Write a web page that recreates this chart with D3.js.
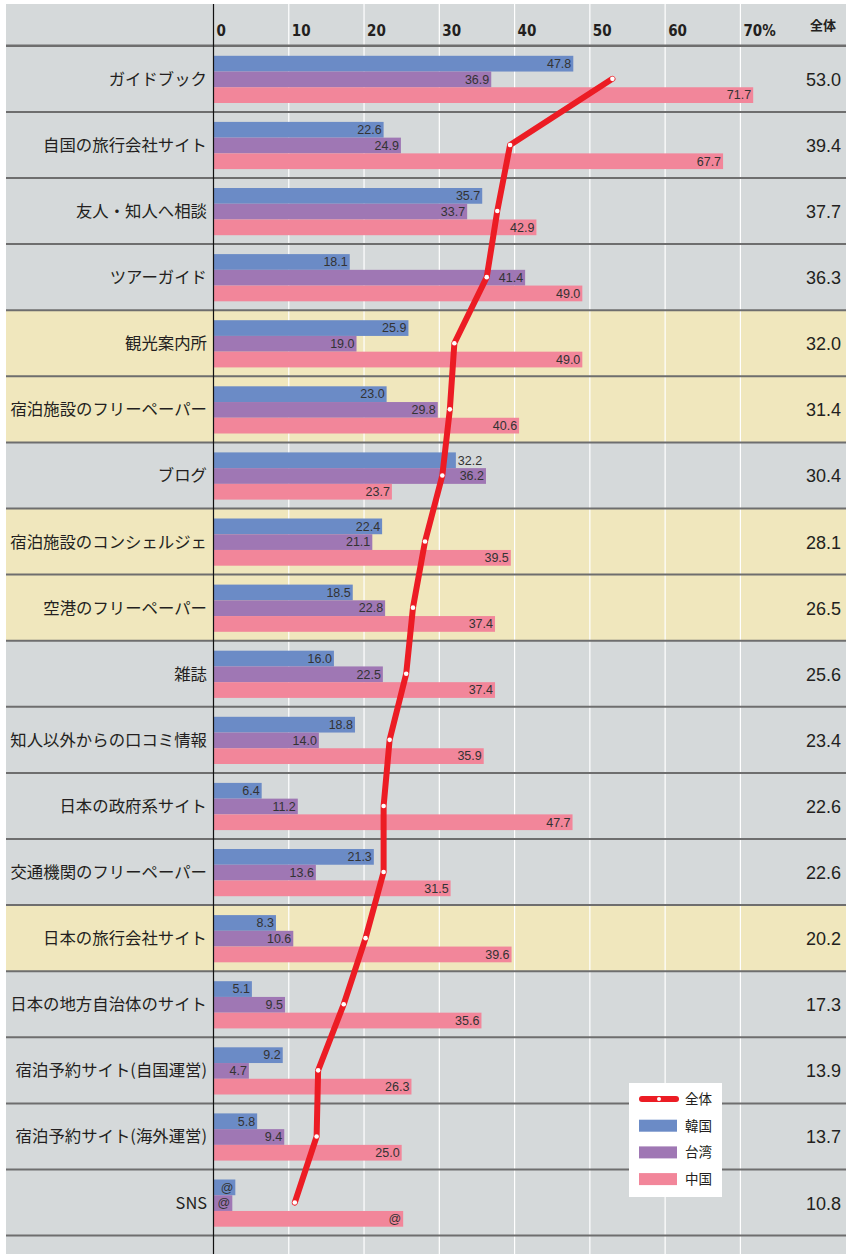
<!DOCTYPE html>
<html>
<head>
<meta charset="utf-8">
<script src="https://cdn.jsdelivr.net/npm/d3@7"></script>
<style>
  body { margin: 0; background: #fff; }
  svg { display: block; }
  .cat { font-family: "Noto Sans CJK JP", sans-serif; font-size: 16.4px; fill: #231f20; }
  .tick-lab { font-family: "Liberation Sans Narrow", "DejaVu Sans Condensed", sans-serif; font-weight: bold; font-size: 15px; fill: #231f20; }
  .val { font-family: "Liberation Sans", Arial, sans-serif; font-size: 12.5px; fill: #333; }
  .total { font-family: "Liberation Sans", Arial, sans-serif; font-size: 18px; fill: #231f20; }
  .leg { font-family: "Noto Sans CJK JP", sans-serif; font-size: 13.5px; fill: #231f20; }
</style>
</head>
<body>
<div id="chart"></div>
<script>
// data
const categories = ["ガイドブック", "自国の旅行会社サイト", "友人・知人へ相談", "ツアーガイド", "観光案内所",
    "宿泊施設のフリーペーパー", "ブログ", "宿泊施設のコンシェルジェ", "空港のフリーペーパー", "雑誌",
    "知人以外からの口コミ情報", "日本の政府系サイト", "交通機関のフリーペーパー", "日本の旅行会社サイト",
    "日本の地方自治体のサイト", "宿泊予約サイト(自国運営)", "宿泊予約サイト(海外運営)", "SNS"];
const highlighted = ["観光案内所", "宿泊施設のフリーペーパー", "宿泊施設のコンシェルジェ", "空港のフリーペーパー", "日本の旅行会社サイト"];
const seriesNames = ["韓国", "台湾", "中国"];
const korea  = [47.8, 22.6, 35.7, 18.1, 25.9, 23.0, 32.2, 22.4, 18.5, 16.0, 18.8, 6.4, 21.3, 8.3, 5.1, 9.2, 5.8, 2.9];
const taiwan = [36.9, 24.9, 33.7, 41.4, 19.0, 29.8, 36.2, 21.1, 22.8, 22.5, 14.0, 11.2, 13.6, 10.6, 9.5, 4.7, 9.4, 2.5];
const china  = [71.7, 67.7, 42.9, 49.0, 49.0, 40.6, 23.7, 39.5, 37.4, 37.4, 35.9, 47.7, 31.5, 39.6, 35.6, 26.3, 25.0, 25.2];
const total  = [53.0, 39.4, 37.7, 36.3, 32.0, 31.4, 30.4, 28.1, 26.5, 25.6, 23.4, 22.6, 22.6, 20.2, 17.3, 13.9, 13.7, 10.8];
// SNS row shows "@" instead of numbers
const specialLabel = {"SNS": "@"};
// labels pushed outside the bar so the line doesn't cover them
const outsideLabels = [["ブログ", "韓国"]];
const tickValues = [0, 10, 20, 30, 40, 50, 60, 70];
const tickLabels = ["0", "10", "20", "30", "40", "50", "60", "70%"];
const totalName = "全体";

const colors = {"韓国": "#6b8bc6", "台湾": "#9f77b4", "中国": "#f2869a"};
const lineColor = "#ec1c24";

const width = 846, height = 1254;
const svg = d3.select("#chart").append("svg")
    .attr("width", width)
    .attr("height", height);

const x = d3.scaleLinear().domain([0, 70]).range([213.5, 740.4]);
const y = d3.scaleBand().domain(categories).range([45.8, 45.8 + 18 * 66.1]);
const inner = d3.scaleBand().domain(seriesNames).range([10, 57.2]);

// background
svg.append("rect")
    .attr("x", 6).attr("y", 4)
    .attr("width", width - 6).attr("height", height - 4)
    .attr("fill", "#d5d9da");

// highlighted rows
svg.selectAll(".hl")
    .data(highlighted)
    .enter().append("rect")
    .attr("x", 6)
    .attr("y", d => y(d))
    .attr("width", width - 6)
    .attr("height", y.bandwidth())
    .attr("fill", "#f0e7bd");

// gridlines
svg.selectAll(".grid")
    .data(tickValues.slice(1))
    .enter().append("line")
    .attr("x1", d => x(d)).attr("x2", d => x(d))
    .attr("y1", 4).attr("y2", height)
    .attr("stroke", "#fff")
    .attr("stroke-width", 1.2);

// row separators
const seps = [y.range()[0]].concat(categories.map(c => y(c) + y.bandwidth()));
svg.selectAll(".sep")
    .data(seps)
    .enter().append("line")
    .attr("x1", 6).attr("x2", width)
    .attr("y1", d => d).attr("y2", d => d)
    .attr("stroke", "#6e6e6e")
    .attr("stroke-width", (d, i) => i === 0 ? 2.6 : 2);

// tick labels
svg.selectAll(".tick-lab")
    .data(tickValues)
    .enter().append("text")
    .attr("class", "tick-lab")
    .attr("x", d => x(d) + 3)
    .attr("y", 36)
    .text((d, i) => tickLabels[i]);

svg.append("text")
    .attr("class", "tick-lab")
    .attr("x", 823).attr("y", 30)
    .attr("text-anchor", "middle")
    .style("font-family", "'Noto Sans CJK JP', sans-serif")
    .style("font-size", "13px")
    .text(totalName);

// bars
const rows = categories.map((c, i) => ({cat: c, vals: [korea[i], taiwan[i], china[i]], total: total[i]}));

const rowG = svg.selectAll(".row")
    .data(rows)
    .enter().append("g")
    .attr("transform", d => `translate(0,${y(d.cat)})`);

rowG.selectAll(".bar")
    .data(d => d.vals.map((v, j) => ({cat: d.cat, series: seriesNames[j], value: v})))
    .enter().append("rect")
    .attr("x", x(0))
    .attr("y", d => inner(d.series))
    .attr("width", d => x(d.value) - x(0))
    .attr("height", inner.bandwidth())
    .attr("fill", d => colors[d.series]);

const isOutside = d => outsideLabels.some(o => o[0] === d.cat && o[1] === d.series);

rowG.selectAll(".val")
    .data(d => d.vals.map((v, j) => ({cat: d.cat, series: seriesNames[j], value: v})))
    .enter().append("text")
    .attr("class", "val")
    .attr("x", d => isOutside(d) ? x(d.value) + 2 : x(d.value) - 2)
    .attr("y", d => inner(d.series) + inner.bandwidth() / 2 + 4.3)
    .attr("text-anchor", d => isOutside(d) ? "start" : "end")
    .text(d => specialLabel[d.cat] || d.value.toFixed(1));

// category labels
rowG.append("text")
    .attr("class", "cat")
    .attr("x", 207)
    .attr("y", y.bandwidth() / 2 + 6)
    .attr("text-anchor", "end")
    .text(d => d.cat);

// total column
rowG.append("text")
    .attr("class", "total")
    .attr("x", 841)
    .attr("y", y.bandwidth() / 2 + 7)
    .attr("text-anchor", "end")
    .text(d => d.total.toFixed(1));

// axis line
svg.append("line")
    .attr("x1", x(0)).attr("x2", x(0))
    .attr("y1", 4).attr("y2", height)
    .attr("stroke", "#111")
    .attr("stroke-width", 1.2);

// total line
const line = d3.line()
    .x(d => x(d.total))
    .y(d => y(d.cat) + y.bandwidth() / 2);

svg.append("path")
    .datum(rows)
    .attr("d", line)
    .attr("fill", "none")
    .attr("stroke", lineColor)
    .attr("stroke-width", 6)
    .attr("stroke-linejoin", "round")
    .attr("stroke-linecap", "round");

svg.selectAll(".dot")
    .data(rows)
    .enter().append("circle")
    .attr("cx", d => x(d.total))
    .attr("cy", d => y(d.cat) + y.bandwidth() / 2)
    .attr("r", 2.3)
    .attr("fill", "#fff");

// legend
const leg = svg.append("g").attr("transform", "translate(629,1083)");
leg.append("rect")
    .attr("width", 93).attr("height", 114)
    .attr("fill", "#fff");

const legItems = [totalName].concat(seriesNames);
legItems.forEach((name, i) => {
    let cy = 16 + i * 26.7;
    if (i === 0) {
        leg.append("line")
            .attr("x1", 13).attr("x2", 47)
            .attr("y1", cy).attr("y2", cy)
            .attr("stroke", lineColor)
            .attr("stroke-width", 6)
            .attr("stroke-linecap", "round");
        leg.append("circle")
            .attr("cx", 30).attr("cy", cy).attr("r", 2)
            .attr("fill", "#fff");
    } else {
        leg.append("rect")
            .attr("x", 10).attr("y", cy - 6)
            .attr("width", 38).attr("height", 12)
            .attr("fill", colors[name]);
    }
    leg.append("text")
        .attr("class", "leg")
        .attr("x", 56).attr("y", cy + 5)
        .text(name);
});
</script>
</body>
</html>
